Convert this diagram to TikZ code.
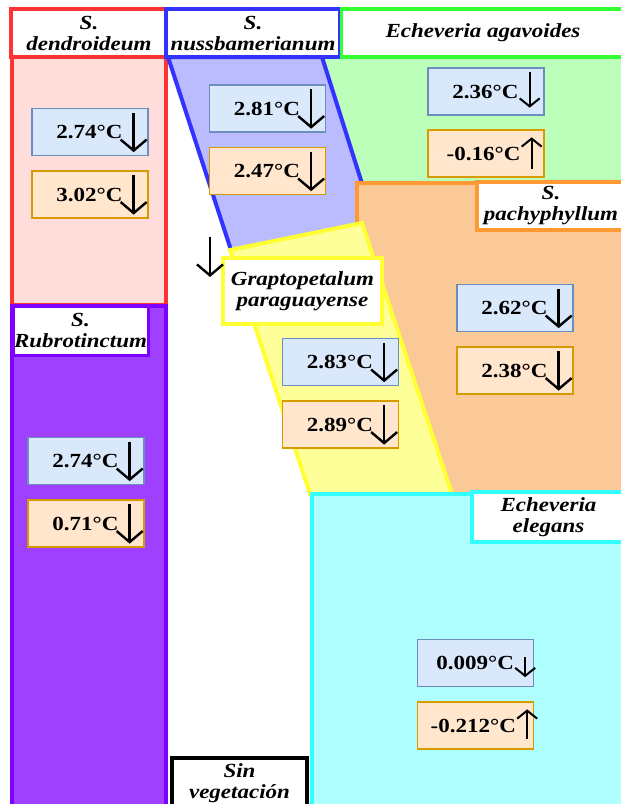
\documentclass[tikz,border=0pt]{standalone}
\usepackage{fontspec}
\setmainfont{Liberation Serif}[FakeStretch=1.15]
\usetikzlibrary{arrows.meta}
\definecolor{redB}{HTML}{FF3333}
\definecolor{redF}{HTML}{FFDDDB}
\definecolor{blueB}{HTML}{3333FF}
\definecolor{blueF}{HTML}{BBBBFF}
\definecolor{greenB}{HTML}{33FF33}
\definecolor{greenF}{HTML}{BBFFBB}
\definecolor{orangeB}{HTML}{FF9933}
\definecolor{orangeF}{HTML}{FBC898}
\definecolor{yellowB}{HTML}{FFFF33}
\definecolor{yellowF}{HTML}{FFFF99}
\definecolor{cyanB}{HTML}{33FFFF}
\definecolor{cyanF}{HTML}{B0FFFF}
\definecolor{purpleB}{HTML}{8000FF}
\definecolor{purpleF}{HTML}{A040FF}
\definecolor{valblueF}{HTML}{DAE8FC}
\definecolor{valblueB}{HTML}{6C8EBF}
\definecolor{valorangeF}{HTML}{FFE6CC}
\definecolor{valorangeB}{HTML}{D79B00}
% value box: [arrow offset]{name}{style}{centre}{text}{arrow style}
\newcommand\valbox[6][15pt]{%
 \node[#3] (#2) at (#4) {};
 \node[valtext, anchor=east] (#2txt) at ([xshift=-#1-11pt]#2.east) {#5};
 \draw[#6] ([xshift=-#1,yshift=-5pt]#2.north east) -- ([xshift=-#1,yshift=4pt]#2.south east);}
\begin{document}
\begin{tikzpicture}[x=1pt, y=-1pt,
  region/.style={line width=4pt},
  lbl/.style={draw, fill=white, line width=3.5pt, inner sep=0pt, align=center,
    font=\bfseries\itshape\fontsize{20}{21}\selectfont},
  valblue/.style={draw=valblueB, fill=valblueF, line width=1.3pt, minimum width=116pt, minimum height=47pt, inner sep=0pt},
  valorange/.style={valblue, draw=valorangeB, fill=valorangeF},
  valtext/.style={inner sep=0pt, font=\bfseries\fontsize{20}{22}\selectfont},
  downarr/.style={line width=2.4pt, -{Straight Barb[length=11pt,width=26pt]}},
  uparr/.style={line width=2.4pt, {Straight Barb[length=11pt,width=26pt]}-},
  sdownarr/.style={line width=2pt, -{Straight Barb[length=8pt,width=20pt]}},
  suparr/.style={line width=2pt, {Straight Barb[length=8pt,width=20pt]}-}]
 \useasboundingbox (0,0) rectangle (621,804);
 % regions
 \fill[greenF] (322,57) rectangle (625,185);
 \filldraw[region, draw=redB, fill=redF] (12,57) rectangle (166,305);
 \filldraw[region, draw=blueB, fill=blueF] (168,57) -- (322,57) -- (372,215) -- (372,300) -- (262,345) -- cycle;
 \filldraw[region, draw=orangeB, fill=orangeF] (357,183) rectangle (625,494);
 \filldraw[region, draw=yellowB, fill=yellowF] (230,250) -- (362,223) -- (452,494) -- (310,494) -- cycle;
 \filldraw[region, draw=cyanB, fill=cyanF] (312,494) rectangle (625,810);
 \filldraw[region, draw=purpleB, fill=purpleF] (12,306) rectangle (166,810);
 % labels
 \node[lbl, draw=redB, minimum width=156pt, minimum height=48pt] (dendLbl) at (89,33) {S.\\dendroideum};
 \node[lbl, draw=blueB, minimum width=174pt, minimum height=48pt] (nussLbl) at (253,33) {S.\\nussbamerianum};
 \node[lbl, draw=greenB, minimum width=283pt, minimum height=48pt] (agavLbl) at (483,33) {Echeveria agavoides};
 \node[lbl, draw=orangeB, minimum width=148pt, minimum height=48pt] (pachLbl) at (551,206) {S.\\pachyphyllum};
 \node[lbl, draw=yellowB, minimum width=159pt, minimum height=66pt] (grapLbl) at (302.5,291) {Graptopetalum\\paraguayense};
 \node[lbl, draw=purpleB, line width=3pt, minimum width=135pt, minimum height=49pt] (rubroLbl) at (80.5,330.5) {S.\\Rubrotinctum};
 \node[lbl, draw=cyanB, minimum width=153pt, minimum height=50pt] (elegLbl) at (548.5,517) {Echeveria\\elegans};
 \node[lbl, draw=black, minimum width=135pt, minimum height=50pt] (sinLbl) at (239.5,783) {Sin\\vegetación};
 % temperature boxes
 \valbox{dendA}{valblue}{90,132}{2.74°C}{downarr}
 \valbox{dendB}{valorange}{90,194.5}{3.02°C}{downarr}
 \valbox{nussA}{valblue}{267.5,108.5}{2.81°C}{downarr}
 \valbox{nussB}{valorange}{267.5,171}{2.47°C}{downarr}
 \valbox{agavA}{valblue}{486,91.5}{2.36°C}{sdownarr, shorten >=4pt}
 \valbox[13pt]{agavB}{valorange}{486,153.5}{-0.16°C}{suparr, shorten <=3pt, shorten >=5pt}
 \valbox{pachA}{valblue}{515,308}{2.62°C}{downarr}
 \valbox{pachB}{valorange}{515,370.5}{2.38°C}{downarr}
 \valbox{grapA}{valblue}{340.5,362}{2.83°C}{downarr}
 \valbox{grapB}{valorange}{340.5,424.5}{2.89°C}{downarr}
 \valbox{rubroA}{valblue}{86,461}{2.74°C}{downarr}
 \valbox{rubroB}{valorange}{86,523.5}{0.71°C}{downarr}
 \valbox[9pt]{elegA}{valblue}{475.5,663}{0.009°C}{sdownarr, shorten <=13pt, shorten >=6pt}
 \valbox[7pt]{elegB}{valorange}{475.5,725.5}{-0.212°C}{suparr, shorten <=3pt, shorten >=7pt}
 % loose arrow
 \draw[downarr] (210,237) -- (210,277);
\end{tikzpicture}
\end{document}
